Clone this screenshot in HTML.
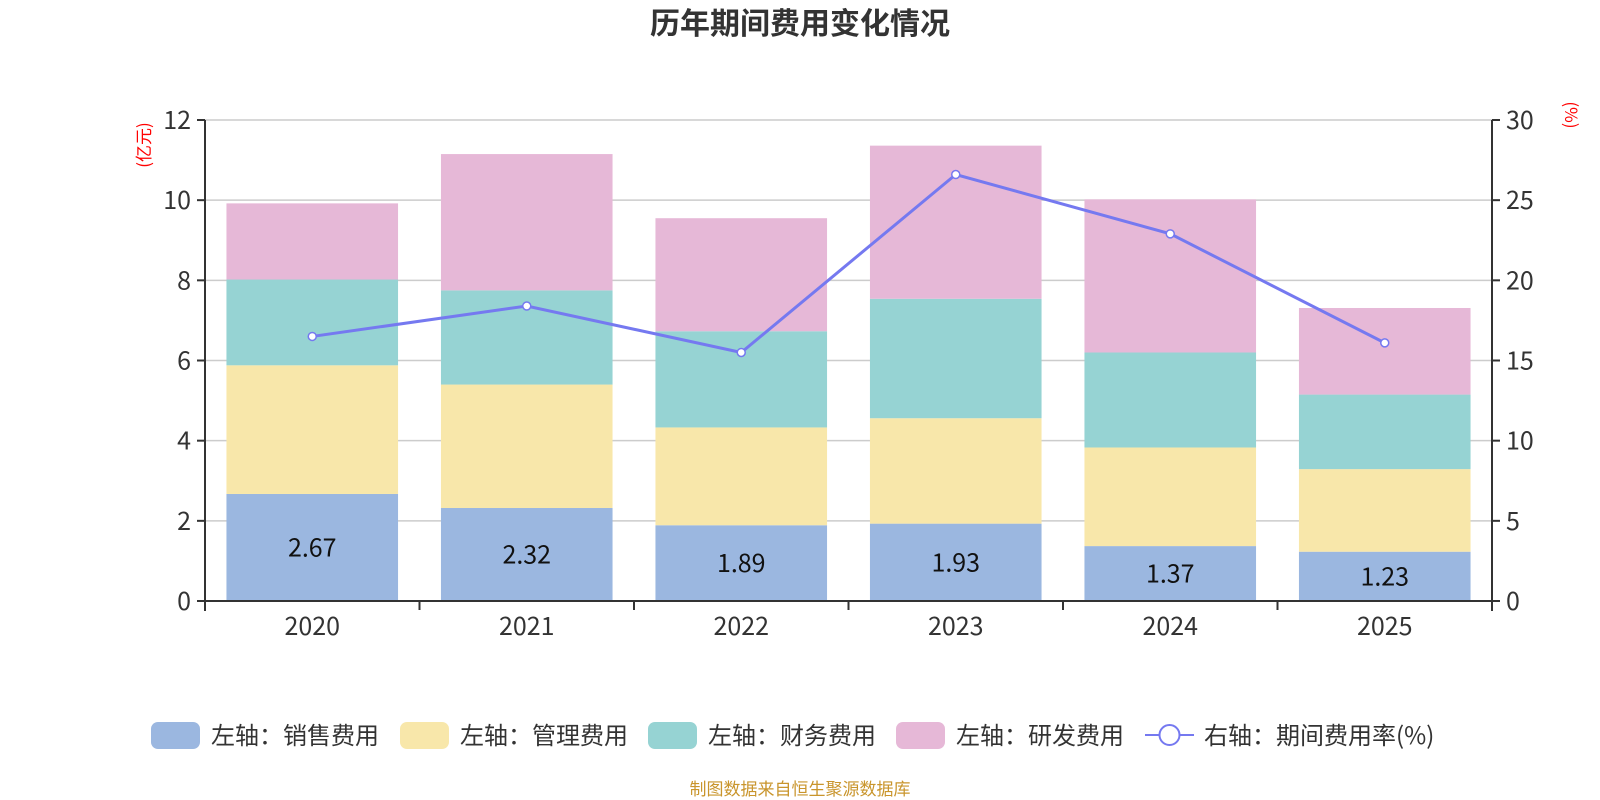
<!DOCTYPE html>
<html><head><meta charset="utf-8"><style>
html,body{margin:0;padding:0;background:#fff;}
svg{display:block;font-family:"Noto Sans CJK SC","Liberation Sans",sans-serif;}
</style></head><body>
<svg id="chart" width="1600" height="800" viewBox="0 0 1600 800">
<text x="800" y="34" text-anchor="middle" font-size="30" font-weight="bold" fill="#333">历年期间费用变化情况</text>
<g id="grid"></g><g id="bars"></g><g id="axes"></g><g id="line"></g>
<text transform="translate(150,145) rotate(-90)" text-anchor="middle" font-size="17" fill="#f00">(亿元)</text>
<text transform="translate(1565,115) rotate(90)" text-anchor="middle" font-size="17" fill="#f00">(%)</text>
<g id="legend"></g>
<text x="800" y="795" text-anchor="middle" font-size="17" fill="#c9952c">制图数据来自恒生聚源数据库</text>
</svg>
<script>
const categories=["2020","2021","2022","2023","2024","2025"];
const sales=[2.67,2.32,1.89,1.93,1.37,1.23];
const admin=[3.21,3.08,2.44,2.63,2.46,2.06];
const finance=[2.14,2.35,2.40,2.98,2.37,1.86];
const rnd=[1.90,3.40,2.82,3.82,3.82,2.16];
const rate=[16.5,18.4,15.5,26.6,22.9,16.1];
const leftTicks=[0,2,4,6,8,10,12];
const rightTicks=[0,5,10,15,20,25,30];
const seriesNames=["左轴：销售费用","左轴：管理费用","左轴：财务费用","左轴：研发费用"];
const colors=["#9bb7e0","#f8e7aa","#96d3d3","#e6b8d7"];
const NS="http://www.w3.org/2000/svg";
const L=205,R=1492,T=120,B=601;
const yL=v=>B-(v/12)*(B-T);
const yR=v=>B-(v/30)*(B-T);
const cw=(R-L)/categories.length;
const xC=i=>L+cw*(i+0.5);
function mk(p,tag,a){const e=document.createElementNS(NS,tag);for(const k in a)e.setAttribute(k,a[k]);p.appendChild(e);return e;}
const grid=document.getElementById('grid'),axes=document.getElementById('axes'),bars=document.getElementById('bars'),line=document.getElementById('line'),legend=document.getElementById('legend');
leftTicks.forEach((t,i)=>{
  const g=mk(grid,'line',{x1:L,x2:R,y1:yL(t),y2:yL(t),stroke:'#ccc','stroke-width':1.5});
  
  
  const tk=mk(axes,'line',{x1:L-8,x2:L,y1:yL(t),y2:yL(t),stroke:'#333','stroke-width':2});
  
  
  const tx=mk(axes,'text',{x:L-14,y:yL(t)+9,'text-anchor':'end','font-size':25,fill:'#333'});
  tx.textContent=t;
  
  
});
rightTicks.forEach(t=>{
  const tk=mk(axes,'line',{x1:R,x2:R+8,y1:yR(t),y2:yR(t),stroke:'#333','stroke-width':2});
  
  
  const tx=mk(axes,'text',{x:R+14,y:yR(t)+9,'font-size':25,fill:'#333'});
  tx.textContent=t;
  
  
});
const la=mk(axes,'line',{x1:L,x2:L,y1:T,y2:B+10,stroke:'#333','stroke-width':2});


const ra=mk(axes,'line',{x1:R,x2:R,y1:T,y2:B+10,stroke:'#333','stroke-width':2});


const xa=mk(axes,'line',{x1:L,x2:R,y1:B,y2:B,stroke:'#333','stroke-width':2});


for(let i=0;i<=categories.length;i++){
  const tk=mk(axes,'line',{x1:L+cw*i,x2:L+cw*i,y1:B,y2:B+9,stroke:'#333','stroke-width':2});
  
  
}
const series=[sales,admin,finance,rnd];
const bw=cw*0.8;
categories.forEach((c,i)=>{
  let base=0;
  series.forEach((s,k)=>{
    const top=base+s[i];
    const r=mk(bars,'rect',{x:xC(i)-bw/2,y:yL(top),width:bw,height:yL(base)-yL(top),fill:colors[k]});
    
    
    base=top;
  });
  const lb=mk(bars,'text',{x:xC(i),y:(yL(0)+yL(sales[i]))/2+9,'text-anchor':'middle','font-size':25,fill:'#111'});
  lb.textContent=sales[i].toFixed(2);
  
  
  const xl=mk(axes,'text',{x:xC(i),y:635,'text-anchor':'middle','font-size':25,fill:'#333'});
  xl.textContent=c;
  
  
});
const pl=mk(line,'polyline',{points:rate.map((v,i)=>xC(i)+','+yR(v)).join(' '),fill:'none',stroke:'#7579f0','stroke-width':3});


rate.forEach((v,i)=>{
  const c=mk(line,'circle',{cx:xC(i),cy:yR(v),r:4,fill:'#fff',stroke:'#7579f0','stroke-width':1.5});
  
  
});
const lx=[151,400,648,896];
seriesNames.forEach((n,k)=>{
  const r=mk(legend,'rect',{x:lx[k],y:722,width:49,height:27,rx:7,fill:colors[k]});
  
  
  const t=mk(legend,'text',{x:lx[k]+60,y:744,'font-size':24,fill:'#333'});
  t.textContent=n;
  
  
});
const ll=mk(legend,'line',{x1:1145,x2:1194,y1:735,y2:735,stroke:'#7579f0','stroke-width':2});


const lc=mk(legend,'circle',{cx:1169.5,cy:735,r:10,fill:'#fff',stroke:'#7579f0','stroke-width':2});


const lt=mk(legend,'text',{x:1204,y:744,'font-size':24,fill:'#333'});
lt.textContent="右轴：期间费用率(%)";


</script>
</body></html>
